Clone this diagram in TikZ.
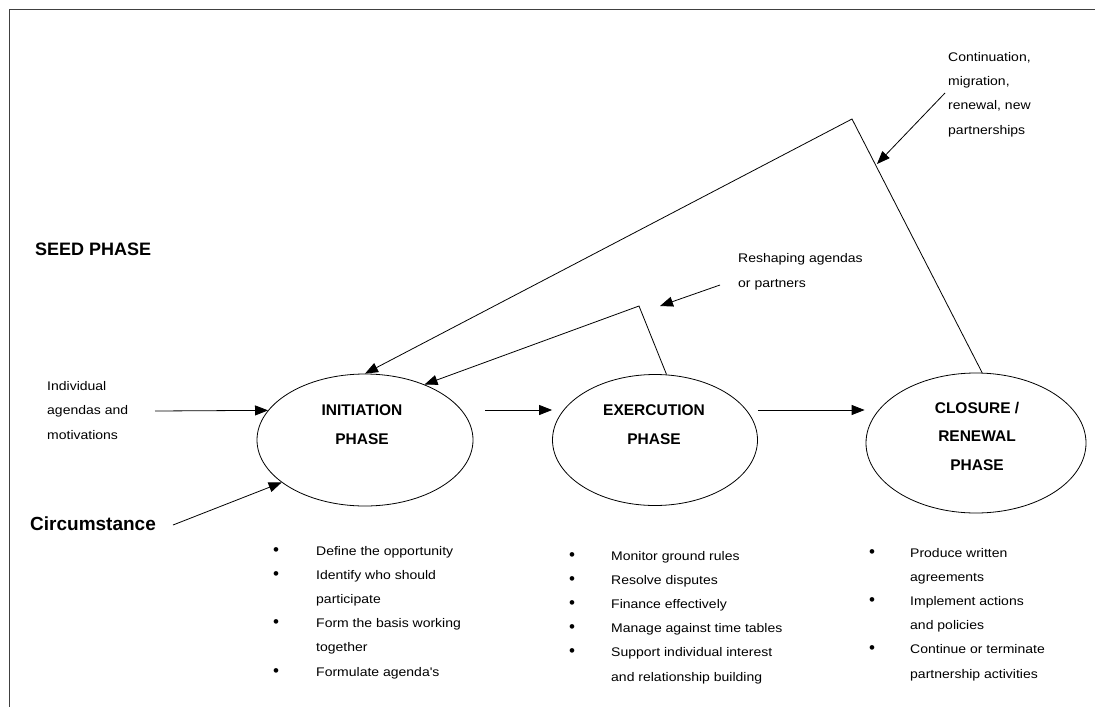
\documentclass[tikz,border=0pt]{standalone}
\usepackage{fontspec}
\setmainfont{Liberation Sans}
\newfontfamily\widefont{Liberation Sans}[FakeStretch=1.12]
\usetikzlibrary{shapes.geometric,arrows.meta}

% multi-line nodes are placed by the baseline of their last line
\tikzset{
  phase/.style={ellipse, draw, line width=0.8pt, inner sep=0pt,
                minimum width=#1},
  phasetext/.style={font=\bfseries\fontsize{15.5}{28.5}\selectfont,
                    align=center, anchor=base, inner sep=0pt},
  note/.style={font=\widefont\fontsize{12.5}{24.2}\selectfont,
               align=left, anchor=base west, inner sep=0pt},
  dot/.style={font=\fontsize{17}{17}\selectfont, anchor=base, inner sep=0pt},
  heading/.style={font=\bfseries\fontsize{#1}{#1}\selectfont,
                  anchor=base west, inner sep=0pt},
  arr/.style={-{Triangle[length=13pt,width=10pt]}, line width=0.8pt},
  frame/.style={line width=1pt, draw=black!75}
}

\begin{document}
\begin{tikzpicture}[x=1pt,y=-1pt]
  \useasboundingbox (0,0) rectangle (1095,707);
  \fill[white] (0,0) rectangle (1095,707);

  % page frame (top and left rules)
  \draw[frame] (1095,9) -- (9,9) -- (9,707);

  % the three phases
  \node[phase=216pt, minimum height=132pt] (init)  at (365,440) {};
  \node[phase=205pt, minimum height=131pt] (exec)  at (655,440) {};
  \node[phase=220pt, minimum height=140pt] (close) at (976,443) {};

  \node[phasetext] (initlbl)  at (362,444) {INITIATION\\PHASE};
  \node[phasetext] (execlbl)  at (654,444) {EXERCUTION\\PHASE};
  \node[phasetext] (closelbl) at (977,470) {CLOSURE /\\RENEWAL\\PHASE};

  % headings on the left
  \node[heading=18] (seed) at (35,255) {SEED PHASE};
  \node[heading=19] (circ) at (30,530) {Circumstance};

  % inputs to the initiation phase
  \node[note] (indiv) at (47,439) {Individual\\agendas and\\motivations};
  \coordinate (indivsrc) at (155,411);
  \draw[arr] (indivsrc) -- (init.163);
  \coordinate (circsrc) at (173,525);
  \draw[arr] (circsrc) -- (init.207);

  % forward flow between phases
  \draw[arr] ([shift={(12,-30)}]init.east) -- ([shift={(0,-30)}]exec.west);
  \draw[arr] ([shift={(0,-30)}]exec.east) -- ([shift={(-1,-33)}]close.west);

  % feedback loops
  \coordinate (outerapex) at (852,119);
  \draw[arr] (close.85) -- (outerapex) -- (init.north);
  \coordinate (innerapex) at (639,306);
  \draw[arr] (exec.80) -- (innerapex) -- (init.43);

  % feedback annotations
  \node[note] (reshape) at (738,287) {Reshaping agendas\\or partners};
  \coordinate (reshapesrc) at (720,285);
  \coordinate (reshapetip) at (660,306);
  \draw[arr] (reshapesrc) -- (reshapetip);

  \node[note] (cont) at (948,134) {Continuation,\\migration,\\renewal, new\\partnerships};
  \coordinate (contsrc) at (945,93);
  \coordinate (conttip) at (877,164);
  \draw[arr] (contsrc) -- (conttip);

  % activities of the initiation phase
  \node[note] (initlist) at (316,676) {Define the opportunity\\Identify who should\\participate\\Form the basis working\\together\\Formulate agenda's};
  \foreach \k in {0,1,3,5}
    \node[dot] at (276,555+24.2*\k) {\textbullet};

  % activities of the execution phase
  \node[note] (execlist) at (611,681) {Monitor ground rules\\Resolve disputes\\Finance effectively\\Manage against time tables\\Support individual interest\\and relationship building};
  \foreach \k in {0,1,2,3,4}
    \node[dot] at (572,560+24.2*\k) {\textbullet};

  % activities of the closure phase
  \node[note] (closelist) at (910,678) {Produce written\\agreements\\Implement actions\\and policies\\Continue or terminate\\partnership activities};
  \foreach \k in {0,2,4}
    \node[dot] at (872,557+24.2*\k) {\textbullet};
\end{tikzpicture}
\end{document}
